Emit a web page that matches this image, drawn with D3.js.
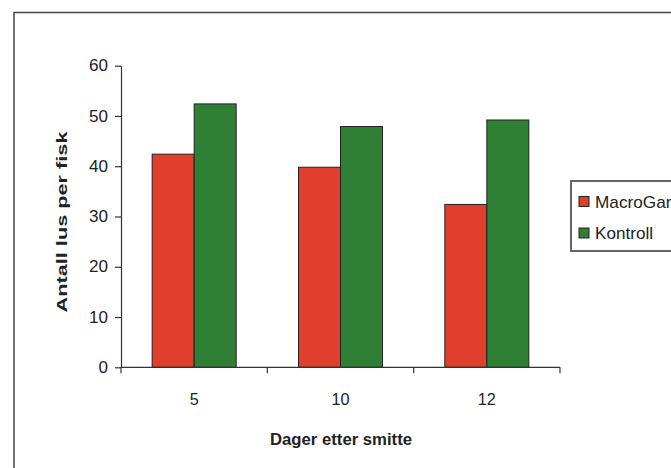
<!DOCTYPE html>
<html><head><meta charset="utf-8">
<script src="https://cdn.jsdelivr.net/npm/d3@7"></script>
<style>body{margin:0;background:#fff}svg{display:block}text{font-family:"Liberation Sans",Arial,sans-serif;fill:#222}</style>
</head><body>
<script>
const categories = ["5", "10", "12"];
const seriesNames = ["MacroGard", "Kontroll"];
const macroGard = [42.4, 39.8, 32.4];
const kontroll = [52.4, 47.9, 49.2];
const yTicks = [0, 10, 20, 30, 40, 50, 60];
const colors = ["#DF3F2C", "#2F8035"];
const xTitle = "Dager etter smitte";
const yTitle = "Antall lus per fisk";

const W = 671, H = 468;
const svg = d3.select("body").append("svg").attr("width", W).attr("height", H);

// outer chart border (extends beyond picture to right and bottom)
svg.append("rect").attr("x", 14).attr("y", 12.5).attr("width", 700).attr("height", 500)
  .attr("fill", "none").attr("stroke", "#444").attr("stroke-width", 1.5);

const x0 = d3.scaleBand().domain(categories).range([121, 560]).padding(0);
const x1 = d3.scaleBand().domain(seriesNames).range([0, x0.bandwidth()]).paddingInner(0).paddingOuter(0.742);
const y = d3.scaleLinear().domain([0, 60]).range([367.3, 65.7]);

const data = categories.map((c, i) => ({cat: c, vals: [macroGard[i], kontroll[i]]}));

const groups = svg.append("g").selectAll("g").data(data).join("g")
  .attr("transform", d => `translate(${x0(d.cat)},0)`);
groups.selectAll("rect").data(d => d.vals.map((v, j) => ({s: seriesNames[j], v, j})))
  .join("rect")
  .attr("x", d => x1(d.s)).attr("width", x1.bandwidth())
  .attr("y", d => y(d.v)).attr("height", d => y(0) - y(d.v))
  .attr("fill", d => colors[d.j]).attr("stroke", "#222").attr("stroke-width", 1);

// y axis
const yAxis = svg.append("g").attr("transform", "translate(121,0)")
  .call(d3.axisLeft(y).tickValues(yTicks).tickSize(6).tickPadding(7).tickSizeOuter(0));
yAxis.select(".domain").attr("stroke", "#333").attr("stroke-width", 1.2);
yAxis.selectAll(".tick line").attr("stroke", "#333").attr("stroke-width", 1.2);
yAxis.selectAll(".tick text").attr("font-size", 16).attr("fill", "#222")
  .attr("font-family", "'Liberation Sans', Arial, sans-serif")
  .attr("textLength", d => String(d).length * 9.5).attr("lengthAdjust", "spacingAndGlyphs");
// extend y axis down a bit below zero
svg.append("line").attr("x1", 121).attr("x2", 121).attr("y1", y(0)).attr("y2", y(0) + 6)
  .attr("stroke", "#333").attr("stroke-width", 1.2);

// x axis: ticks at category boundaries
const xAxisG = svg.append("g").attr("transform", `translate(0,${y(0)})`);
xAxisG.append("line").attr("x1", 121).attr("x2", 560).attr("y1", 0).attr("y2", 0)
  .attr("stroke", "#333").attr("stroke-width", 1.2);
const boundaries = categories.map(c => x0(c)).concat([x0(categories[categories.length - 1]) + x0.bandwidth()]);
xAxisG.selectAll("line.bt").data(boundaries.slice(1)).join("line").attr("class", "bt")
  .attr("x1", d => d).attr("x2", d => d).attr("y1", 0).attr("y2", 6)
  .attr("stroke", "#333").attr("stroke-width", 1.2);
xAxisG.selectAll("text").data(categories).join("text")
  .attr("x", d => x0(d) + x0.bandwidth() / 2).attr("y", 38)
  .attr("text-anchor", "middle").attr("font-size", 16)
  .attr("textLength", d => d.length * 9).attr("lengthAdjust", "spacingAndGlyphs")
  .text(d => d);

// axis titles
svg.append("text").attr("x", 341).attr("y", 445).attr("text-anchor", "middle")
  .attr("font-size", 17).attr("font-weight", "bold")
  .attr("textLength", 142).attr("lengthAdjust", "spacingAndGlyphs").text(xTitle);
svg.append("text").attr("transform", "translate(67,222) rotate(-90)").attr("text-anchor", "middle")
  .attr("font-size", 15).attr("font-weight", "bold")
  .attr("textLength", 181).attr("lengthAdjust", "spacingAndGlyphs").text(yTitle);

// legend
const legendLen = {"MacroGard": 86, "Kontroll": 58};
const lg = svg.append("g");
lg.append("rect").attr("x", 571).attr("y", 181).attr("width", 150).attr("height", 70)
  .attr("fill", "#fff").attr("stroke", "#555").attr("stroke-width", 1.8);
const items = lg.selectAll("g").data(seriesNames).join("g")
  .attr("transform", (d, i) => `translate(579,${201.5 + i * 31.5})`);
items.append("rect").attr("x", 0).attr("y", -5).attr("width", 10).attr("height", 10)
  .attr("fill", (d, i) => colors[i]).attr("stroke", "#222").attr("stroke-width", 1);
items.append("text").attr("x", 16).attr("y", 6).attr("font-size", 17)
  .attr("textLength", d => legendLen[d]).attr("lengthAdjust", "spacingAndGlyphs")
  .text(d => d);
</script>
</body></html>
